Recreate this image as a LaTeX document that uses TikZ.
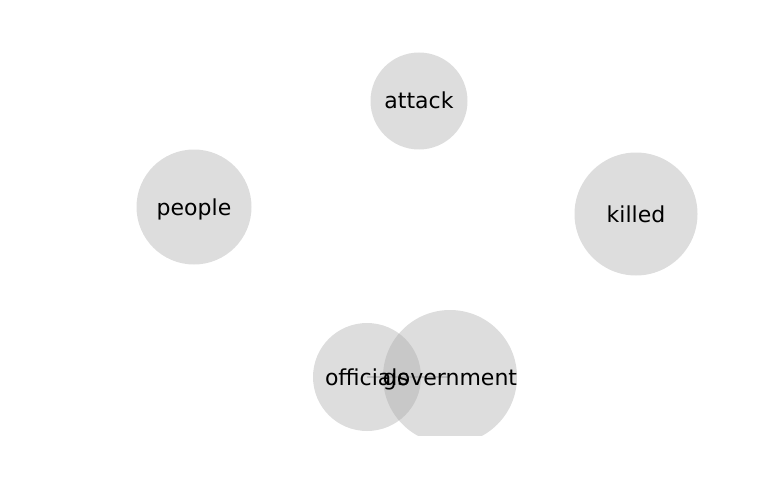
\documentclass[tikz,border=0pt]{standalone}
\usepackage{fontspec}
\setmainfont{DejaVu Sans}
\begin{document}
\begin{tikzpicture}[x=1pt,y=-1pt,
  nd/.style={circle,fill={rgb,255:red,165;green,165;blue,165},fill opacity=0.38,inner sep=0pt},
  lb/.style={font=\fontsize{22}{26}\selectfont,inner sep=0pt,anchor=base,yshift=-8pt},
  ed/.style={draw={rgb,255:red,150;green,150;blue,150},line width=2pt,draw opacity=0.5}]
\useasboundingbox (0,0) rectangle (768,500);
\begin{scope}
\clip (0,0) rectangle (768,435);
\coordinate (cA) at (419,101);
\coordinate (cP) at (194,207);
\coordinate (cK) at (636,214);
\coordinate (cO) at (367,377);
\coordinate (cG) at (450,377);
\draw[ed] (cO) -- (cG);
\node[nd,minimum size=97pt] (attack) at (cA) {};
\node[nd,minimum size=115pt] (people) at (cP) {};
\node[nd,minimum size=123pt] (killed) at (cK) {};
\node[nd,minimum size=108pt] (officials) at (cO) {};
\node[nd,minimum size=134pt] (government) at (cG) {};
\node[lb] (tA) at (cA) {attack};
\node[lb] (tP) at (cP) {people};
\node[lb] (tK) at (cK) {killed};
\node[lb] (tO) at (cO) {officials};
\node[lb] (tG) at (cG) {government};
\end{scope}
\end{tikzpicture}
\end{document}
